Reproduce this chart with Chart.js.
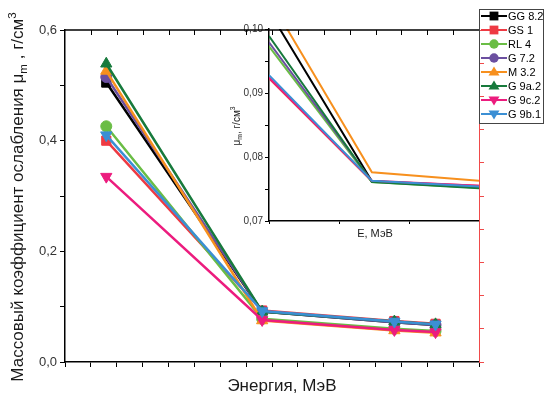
<!DOCTYPE html>
<html>
<head>
<meta charset="utf-8">
<script src="https://cdn.jsdelivr.net/npm/chart.js@4"></script>
<style>
  html, body { margin: 0; padding: 0; background: #fff; }
  #wrap { position: relative; width: 545px; height: 401px; }
  #wrap canvas { position: absolute; left: 0; top: 0; }
</style>
</head>
<body>
<div id="wrap">
  <canvas id="inset" width="545" height="401"></canvas>
  <canvas id="main" width="545" height="401"></canvas>
</div>
<script>
// energies, MeV
const energies = [0.0595, 0.662, 1.173, 1.332];
const seriesNames = ['GG 8.2', 'GS 1', 'RL 4', 'G 7.2', 'M 3.2', 'G 9a.2', 'G 9c.2', 'G 9b.1'];

// mass attenuation, g/cm3
const gg82 = [0.505, 0.091, 0.072, 0.067];
const gs1  = [0.400, 0.093, 0.074, 0.069];
const rl4  = [0.426, 0.078, 0.060, 0.056];
const g72  = [0.515, 0.091, 0.072, 0.067];
const m32  = [0.526, 0.075, 0.057, 0.053];
const g9a2 = [0.539, 0.091, 0.073, 0.068];
const g9c2 = [0.335, 0.076, 0.058, 0.054];
const g9b1 = [0.410, 0.092, 0.073, 0.068];
const mainValues = [gg82, gs1, rl4, g72, m32, g9a2, g9c2, g9b1];

// inset (zoomed part)
const insetX = [0, 1.47, 3];
const insetValues = [
  [0.1028, 0.0762, 0.0753],
  [0.0923, 0.0762, 0.0755],
  [0.0973, 0.0761, 0.0752],
  [0.0979, 0.0762, 0.0753],
  [0.1048, 0.0776, 0.0763],
  [0.0989, 0.0761, 0.0751],
  [0.0924, 0.0763, 0.0755],
  [0.0928, 0.0763, 0.0754]
];

const colors = ['#000000', '#ee3a43', '#6abd45', '#6b4fa0', '#f7901e', '#177a3c', '#ec1c7e', '#3b8fd4'];
const shapes = ['rect', 'rect', 'circle', 'circle', 'triangle', 'triangle', 'triangle', 'triangle'];
const rotations = [0, 0, 0, 0, 0, 0, 180, 180];

const FONT = "'Liberation Sans', Arial, sans-serif";

function comma(v, d) {
  return v.toFixed(d).replace('.', ',');
}

function drawRich(ctx, parts, cx, cy, size, rot) {
  ctx.save();
  ctx.translate(cx, cy);
  ctx.rotate(rot);
  ctx.textAlign = 'left';
  ctx.textBaseline = 'alphabetic';
  ctx.fillStyle = '#1a1a1a';
  let w = 0;
  parts.forEach(p => {
    p.size = p.s ? size * 0.68 : size;
    ctx.font = p.size + 'px ' + FONT;
    p.w = ctx.measureText(p.t).width;
    w += p.w;
  });
  let x = -w / 2;
  const base = size * 0.36;
  parts.forEach(p => {
    ctx.font = p.size + 'px ' + FONT;
    let dy = 0;
    if (p.s === 'sub') dy = size * 0.25;
    if (p.s === 'sup') dy = -size * 0.42;
    ctx.fillText(p.t, x, base + dy);
    x += p.w;
  });
  ctx.restore();
}

function drawMarker(ctx, style, rot, x, y, r) {
  ctx.beginPath();
  if (style === 'rect') {
    const s = r * 0.8;
    ctx.rect(x - s, y - s, 2 * s, 2 * s);
  } else if (style === 'circle') {
    ctx.arc(x, y, r * 0.85, 0, Math.PI * 2);
  } else {
    const d = rot ? -1 : 1;
    ctx.moveTo(x, y - d * r);
    ctx.lineTo(x + r, y + d * r * 0.65);
    ctx.lineTo(x - r, y + d * r * 0.65);
    ctx.closePath();
  }
  ctx.fill();
}

// extra decoration for main chart: top frame, inner top ticks, titles, legend
const mainExtras = {
  id: 'mainExtras',
  afterDraw(chart) {
    const ctx = chart.ctx;
    const a = chart.chartArea;
    const xs = chart.scales.x;
    ctx.save();
    ctx.strokeStyle = '#000';
    ctx.lineWidth = 1.5;
    ctx.beginPath();
    ctx.moveTo(a.left, a.top);
    ctx.lineTo(a.right, a.top);
    ctx.stroke();
    ctx.lineWidth = 1;
    xs.ticks.forEach(t => {
      const px = Math.round(xs.getPixelForValue(t.value)) + 0.5;
      if (px <= a.left + 2 || px >= a.right - 2) return;
      ctx.beginPath();
      ctx.moveTo(px, a.top);
      ctx.lineTo(px, a.top + 5);
      ctx.stroke();
    });

    // legend
    ctx.strokeStyle = '#444';
    ctx.lineWidth = 1;
    ctx.strokeRect(479.5, 9.5, 64, 114);
    ctx.font = '11px ' + FONT;
    ctx.textBaseline = 'middle';
    ctx.textAlign = 'left';
    seriesNames.forEach((name, i) => {
      const y = 16 + i * 14;
      ctx.strokeStyle = colors[i];
      ctx.fillStyle = colors[i];
      ctx.lineWidth = 2;
      ctx.beginPath();
      ctx.moveTo(481, y);
      ctx.lineTo(507, y);
      ctx.stroke();
      drawMarker(ctx, shapes[i], rotations[i], 494, y, 5.5);
      ctx.fillStyle = '#000';
      ctx.fillText(name, 508, y + 0.5);
    });
    ctx.restore();

    drawRich(ctx, [
      { t: 'Массовый коэффициент ослабления μ' },
      { t: 'm', s: 'sub' },
      { t: ' , г/см' },
      { t: '3', s: 'sup' }
    ], 17, 197, 17, -Math.PI / 2);
    drawRich(ctx, [{ t: 'Энергия, МэВ' }], 282, 385, 17, 0);
  }
};

const insetExtras = {
  id: 'insetExtras',
  afterDraw(chart) {
    const ctx = chart.ctx;
    drawRich(ctx, [
      { t: 'μ' },
      { t: 'm', s: 'sub' },
      { t: ', г/см' },
      { t: '3', s: 'sup' }
    ], 236, 126, 10, -Math.PI / 2);
    drawRich(ctx, [{ t: 'E, МэВ' }], 375, 233, 11, 0);
  }
};

const mainDatasets = mainValues.map((vals, i) => ({
  label: seriesNames[i],
  data: energies.map((e, j) => ({ x: e, y: vals[j] })),
  borderColor: colors[i],
  backgroundColor: colors[i],
  borderWidth: 2.5,
  pointStyle: shapes[i],
  pointRotation: rotations[i],
  pointRadius: shapes[i] === 'circle' ? 5.5 : 6.5,
  pointBorderWidth: 1,
  order: mainValues.length - i,
  tension: 0
}));

new Chart(document.getElementById('main'), {
  type: 'line',
  data: { datasets: mainDatasets },
  options: {
    responsive: false,
    animation: false,
    devicePixelRatio: 1,
    events: [],
    layout: { padding: { top: 30, left: 0, right: 0, bottom: 0 } },
    plugins: { legend: { display: false }, tooltip: { enabled: false } },
    scales: {
      x: {
        type: 'linear',
        min: -0.1,
        max: 1.5,
        afterFit(s) { s.height = 39; },
        ticks: { stepSize: 0.1, display: false },
        grid: { drawOnChartArea: false, color: '#000', tickLength: 5 },
        border: { color: '#000', width: 1.5 }
      },
      y: {
        min: 0,
        max: 0.6,
        afterFit(s) { s.width = 65; },
        ticks: {
          stepSize: 0.1,
          color: '#333',
          padding: 3,
          font: { family: FONT, size: 13 },
          callback: v => (Math.round(v * 10) % 2 === 0 ? comma(v, 1) : '')
        },
        grid: { drawOnChartArea: false, color: '#000', tickLength: 5 },
        border: { color: '#000', width: 1.5 }
      },
      y2: {
        position: 'right',
        min: 0,
        max: 10,
        afterFit(s) { s.width = 66; },
        ticks: { stepSize: 1, display: false },
        grid: { drawOnChartArea: false, color: '#f04a4a', tickLength: 5 },
        border: { color: '#f04a4a', width: 1 }
      }
    }
  },
  plugins: [mainExtras]
});

const insetDatasets = insetValues.map((vals, i) => ({
  label: seriesNames[i],
  data: insetX.map((x, j) => ({ x: x, y: vals[j] })),
  borderColor: colors[i],
  borderWidth: 2,
  pointRadius: 0,
  order: insetValues.length - i,
  tension: 0
}));

new Chart(document.getElementById('inset'), {
  type: 'line',
  data: { datasets: insetDatasets },
  options: {
    responsive: false,
    animation: false,
    devicePixelRatio: 1,
    events: [],
    layout: { padding: { top: 29, left: 222, right: 66, bottom: 156 } },
    plugins: { legend: { display: false }, tooltip: { enabled: false } },
    scales: {
      x: {
        type: 'linear',
        min: 0,
        max: 3,
        afterFit(s) { s.height = 24; },
        ticks: { stepSize: 1, display: false },
        grid: { drawOnChartArea: false, color: '#000', tickLength: 3 },
        border: { color: '#000', width: 1.5 }
      },
      y: {
        min: 0.07,
        max: 0.10,
        afterFit(s) { s.width = 47; },
        ticks: {
          stepSize: 0.005,
          color: '#333',
          padding: 2,
          font: { family: FONT, size: 10 },
          callback: v => (Math.abs(v * 100 - Math.round(v * 100)) < 1e-6 ? comma(v, 2) : '')
        },
        grid: { drawOnChartArea: false, color: '#000', tickLength: 4 },
        border: { color: '#000', width: 1.5 }
      }
    }
  },
  plugins: [insetExtras]
});
</script>
</body>
</html>
